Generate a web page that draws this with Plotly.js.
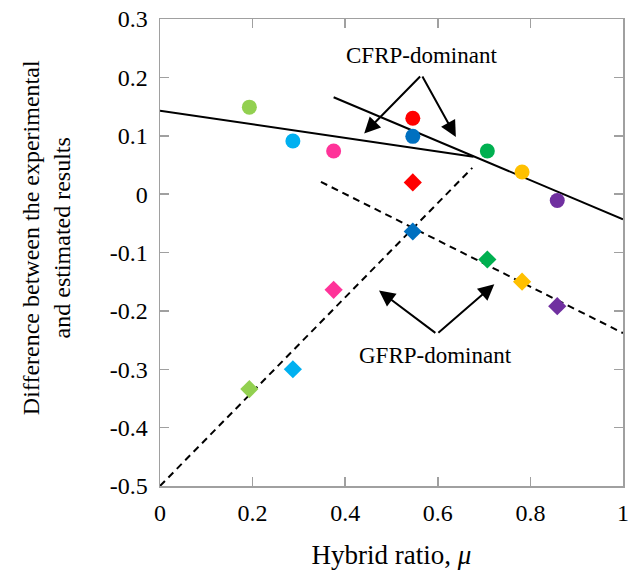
<!DOCTYPE html>
<html>
<head>
<meta charset="utf-8">
<script src="https://cdn.plot.ly/plotly-3.0.1.min.js"></script>
<style>html,body{margin:0;padding:0;background:#fff;}#chart{width:629px;height:583px;}</style>
</head>
<body>
<div id="chart"></div>
<script>
// Data
var hybridRatio = [0.193, 0.287, 0.375, 0.546, 0.546, 0.707, 0.782, 0.858];
var colors = ['#92D050', '#00B0F0', '#FF3399', '#FF0000', '#0070C0', '#00B050', '#FFC000', '#7030A0'];
var cfrpDiff = [0.149, 0.091, 0.074, 0.130, 0.099, 0.074, 0.038, -0.011];
var gfrpDiff = [-0.334, -0.300, -0.164, 0.020, -0.064, -0.112, -0.150, -0.192];

// Trend lines (endpoints)
var cfrpLine1X = [0, 0.677];
var cfrpLine1Y = [0.143, 0.064];
var cfrpLine2X = [0.375, 1.0];
var cfrpLine2Y = [0.166, -0.043];
var gfrpLine1X = [0, 0.6745];
var gfrpLine1Y = [-0.5, 0.045];
var gfrpLine2X = [0.3476, 1.0];
var gfrpLine2Y = [0.021, -0.238];

var xTicks = [0, 0.2, 0.4, 0.6, 0.8, 1];
var xTickText = ['0', '0.2', '0.4', '0.6', '0.8', '1'];
var yTicks = [-0.5, -0.4, -0.3, -0.2, -0.1, 0, 0.1, 0.2, 0.3];
var yTickText = ['-0.5', '-0.4', '-0.3', '-0.2', '-0.1', '0', '0.1', '0.2', '0.3'];

var FONT = 'Liberation Serif';

var traces = [
  {x: cfrpLine1X, y: cfrpLine1Y, mode: 'lines', line: {color: '#000', width: 2}, hoverinfo: 'skip'},
  {x: cfrpLine2X, y: cfrpLine2Y, mode: 'lines', line: {color: '#000', width: 2}, hoverinfo: 'skip'},
  {x: gfrpLine1X, y: gfrpLine1Y, mode: 'lines', line: {color: '#000', width: 2, dash: '7px,5px'}, hoverinfo: 'skip'},
  {x: gfrpLine2X, y: gfrpLine2Y, mode: 'lines', line: {color: '#000', width: 2, dash: '7px,5px'}, hoverinfo: 'skip'},
  {x: hybridRatio, y: cfrpDiff, mode: 'markers', marker: {symbol: 'circle', size: 15, color: colors}},
  {x: hybridRatio, y: gfrpDiff, mode: 'markers', marker: {symbol: 'diamond', size: 14, color: colors}}
];

var axisCommon = {
  showgrid: false, zeroline: false,
  showline: true, linecolor: '#a0a0a0', linewidth: 1.5, mirror: 'ticks',
  ticks: 'inside', ticklen: 9, tickwidth: 1.5, tickcolor: '#a0a0a0',
  ticklabeloverflow: 'allow',
  tickfont: {family: FONT, size: 24, color: '#000'}
};

var layout = {
  width: 629, height: 583,
  margin: {l: 160, r: 6, t: 19, b: 97},
  paper_bgcolor: '#fff', plot_bgcolor: '#fff',
  showlegend: false,
  font: {family: FONT, color: '#000'},
  xaxis: Object.assign({}, axisCommon, {
    range: [0, 1], tickvals: xTicks, ticktext: xTickText,
    ticklabelstandoff: 5,
    title: {text: 'Hybrid ratio, <i>μ</i>', font: {family: FONT, size: 27, color: '#000'}, standoff: 20}
  }),
  yaxis: Object.assign({}, axisCommon, {
    range: [-0.5, 0.3], tickvals: yTicks, ticktext: yTickText,
    ticklabelstandoff: 6
  }),
  annotations: [
    {xref: 'paper', yref: 'paper', x: -0.246, y: 0.531, xanchor: 'center', yanchor: 'middle', textangle: -90,
     text: 'Difference between the experimental<br>and estimated results', showarrow: false,
     font: {family: FONT, size: 24, color: '#000'}},
    {x: 0.565, y: 0.238, xref: 'x', yref: 'y', text: 'CFRP-dominant', showarrow: false, font: {family: FONT, size: 23, color: '#000'}},
    {x: 0.441, y: 0.104, ax: 0.565, ay: 0.204, xref: 'x', yref: 'y', axref: 'x', ayref: 'y', text: '', showarrow: true, arrowhead: 2, arrowsize: 1.6, arrowwidth: 2, arrowcolor: '#000'},
    {x: 0.639, y: 0.098, ax: 0.565, ay: 0.204, xref: 'x', yref: 'y', axref: 'x', ayref: 'y', text: '', showarrow: true, arrowhead: 2, arrowsize: 1.6, arrowwidth: 2, arrowcolor: '#000'},
    {x: 0.596, y: -0.277, xref: 'x', yref: 'y', text: 'GFRP-dominant', showarrow: false, font: {family: FONT, size: 23, color: '#000'}},
    {x: 0.473, y: -0.165, ax: 0.598, ay: -0.2396, xref: 'x', yref: 'y', axref: 'x', ayref: 'y', text: '', showarrow: true, arrowhead: 2, arrowsize: 1.6, arrowwidth: 2, arrowcolor: '#000'},
    {x: 0.722, y: -0.1545, ax: 0.598, ay: -0.2396, xref: 'x', yref: 'y', axref: 'x', ayref: 'y', text: '', showarrow: true, arrowhead: 2, arrowsize: 1.6, arrowwidth: 2, arrowcolor: '#000'}
  ]
};

Plotly.newPlot('chart', traces, layout, {displayModeBar: false, staticPlot: true});
</script>
</body>
</html>
